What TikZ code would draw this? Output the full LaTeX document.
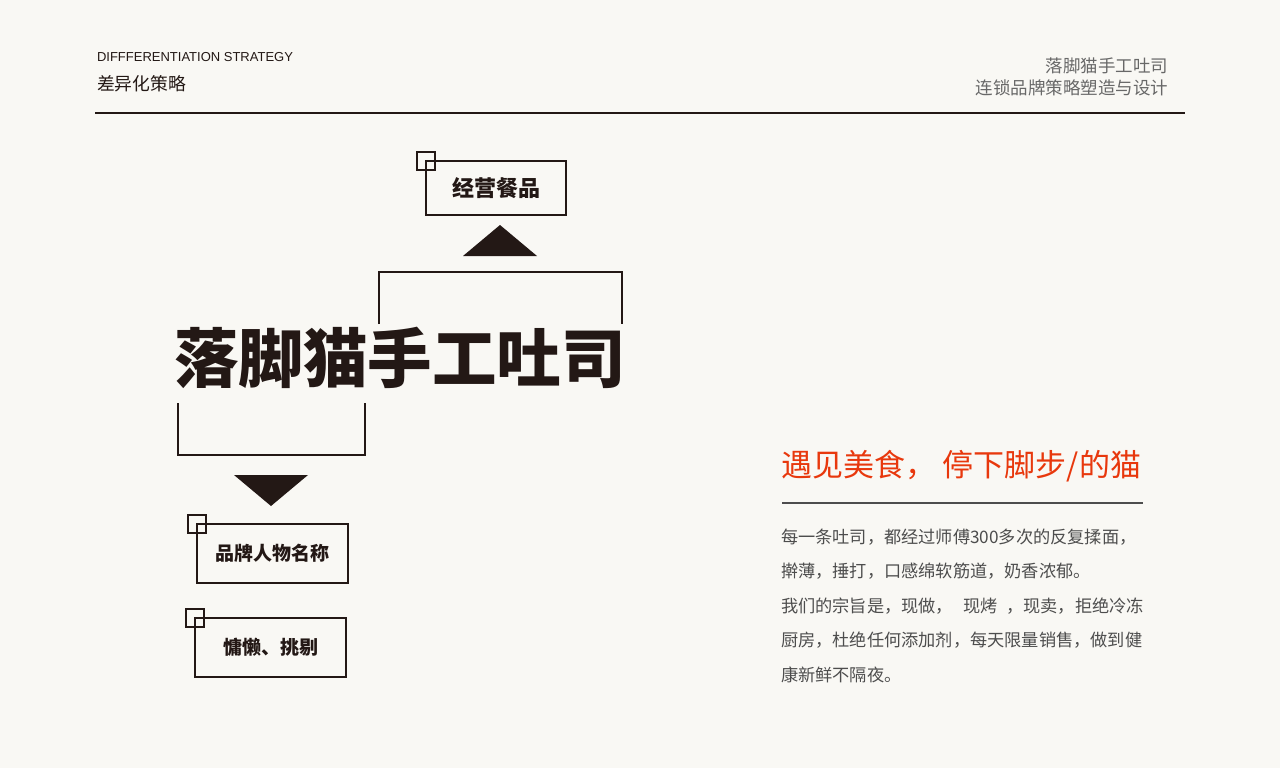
\documentclass[tikz,border=0pt]{standalone}
\usepackage{fontspec}
\setmainfont{Liberation Sans}
\newfontfamily\cjk{Noto Sans CJK SC}
\usetikzlibrary{positioning}

\definecolor{paper}{HTML}{F9F8F4}
\definecolor{ink}{HTML}{231815}
\definecolor{grey}{HTML}{4D4D4D}
\definecolor{redtitle}{HTML}{E8380D}

\tikzset{
  box/.style={draw=ink,line width=1.5pt,minimum height=59pt,minimum width=151pt,
    font=\cjk\bfseries\fontsize{19}{21}\selectfont,text=ink},
  corner/.style={draw=ink,line width=1.2pt,minimum size=18pt},
  body/.style={anchor=west,font=\cjk\fontsize{17.2}{19}\selectfont,text=grey}
}

\begin{document}
\begin{tikzpicture}[x=1pt,y=-1pt,every node/.style={inner sep=0pt,outer sep=0pt}]
\fill[paper] (0,0) rectangle (1280,768);
\useasboundingbox (0,0) rectangle (1280,768);

% header
\node[anchor=west,text=ink,font=\fontsize{13}{14}\selectfont] (en) at (97,57) {DIFFFERENTIATION STRATEGY};
\node[anchor=west,text=ink,font=\cjk\fontsize{17.8}{19}\selectfont] (cn) at (97,84) {差异化策略};
\node[anchor=east,text=grey!85,font=\cjk\fontsize{17.5}{19}\selectfont] (brand) at (1168,66) {落脚猫手工吐司};
\node[anchor=east,text=grey!85,font=\cjk\fontsize{17.5}{19}\selectfont] (sub) at (1168,88) {连锁品牌策略塑造与设计};
\draw[ink,line width=1.5pt] (95,113) -- (1185,113);

% main title
\node[text=ink,font=\cjk\bfseries\fontsize{64.5}{66}\selectfont] (title) at (400,358) {落脚猫手工吐司};

% top branch
\draw[ink,line width=1.3pt] (379,324) -- (379,272) -- (622,272) -- (622,324);
\fill[ink] (463,256) -- (500,225) -- (537,256) -- cycle;
\node[box,minimum width=140pt,minimum height=54pt,font=\cjk\bfseries\fontsize{22}{24}\selectfont] (1) at (496,188) {经营餐品};
\node[corner] (c1) at (1.north west) {};

% bottom branch
\draw[ink,line width=1.3pt] (178,403) -- (178,455) -- (365,455) -- (365,403);
\fill[ink] (234,475) -- (308,475) -- (271,506) -- cycle;
\node[box] (2) at (272.5,553.5) {品牌人物名称};
\node[corner] (c2) at (2.north west) {};
\node[box] (3) at (270.5,647.5) {慵懒、挑剔};
\node[corner] (c3) at (3.north west) {};

% right text
\node[anchor=west,text=redtitle,font=\cjk\fontsize{31}{33}\selectfont] (slogan) at (781,466) {遇见美食，\hspace{7pt}停下脚步/的猫};
\draw[grey,line width=1.5pt] (782,503) -- (1143,503);
\node[body] (l1) at (781,537) {每一条吐司，都经过师傅300多次的反复揉面，};
\node[body] (l2) at (781,571) {擀薄，捶打，口感绵软筋道，奶香浓郁。};
\node[body] (l3) at (781,606) {我们的宗旨是，现做，\hspace{0.6em}现烤\hspace{0.5em}，现卖，拒绝冷冻};
\node[body] (l4) at (781,640) {厨房，杜绝任何添加剂，每天限量销售，做到健};
\node[body] (l5) at (781,675) {康新鲜不隔夜。};
\end{tikzpicture}
\end{document}
